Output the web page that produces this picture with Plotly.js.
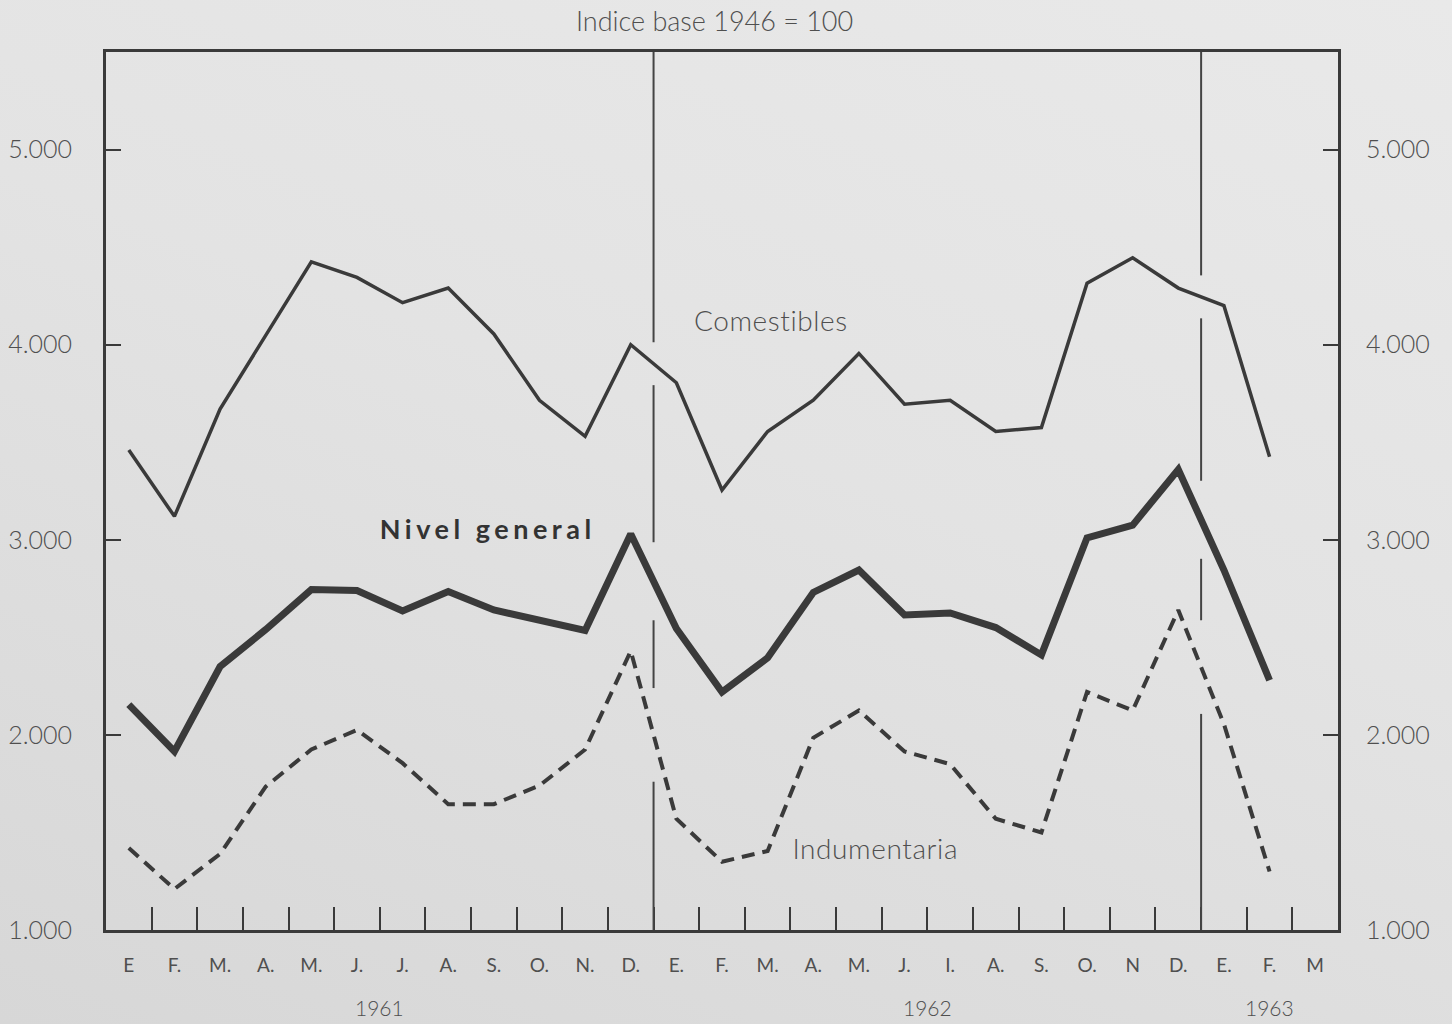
<!DOCTYPE html>
<html>
<head>
<meta charset="utf-8">
<script src="https://cdn.plot.ly/plotly-3.0.1.min.js"></script>
<style>
  html, body { margin: 0; padding: 0; }
  body { width: 1452px; height: 1024px; background: linear-gradient(200deg, #e9e9e9 0%, #e3e3e3 45%, #d7d7d7 100%); }
  #chart { width: 1452px; height: 1024px; }
</style>
</head>
<body>
<div id="chart"></div>
<script>
// Month tick labels (E 1961 ... M 1963)
const months = ["E", "F.", "M.", "A.", "M.", "J.", "J.", "A.", "S.", "O.", "N.", "D.",
                "E.", "F.", "M.", "A.", "M.", "J.", "I.", "A.", "S.", "O.", "N", "D.",
                "E.", "F.", "M"];
const years = ["1961", "1962", "1963"];
const yearCenters = [5.5, 17.5, 25];
const yearBoundaries = [11.5, 23.5];

// Index values (base 1946 = 100), E 1961 ... F 1963
const comestibles = [3460, 3120, 3670, 4050, 4425, 4345, 4215, 4290, 4055, 3715, 3530, 4000,
                     3805, 3255, 3555, 3715, 3955, 3695, 3715, 3555, 3575, 4315, 4445, 4290,
                     4200, 3425];
const nivelGeneral = [2155, 1915, 2350, 2540, 2745, 2740, 2635, 2735, 2640, 2585, 2535, 3030,
                      2545, 2220, 2395, 2730, 2845, 2615, 2625, 2550, 2410, 3010, 3075, 3360,
                      2845, 2280];
const indumentaria = [1420, 1210, 1390, 1735, 1925, 2025, 1855, 1645, 1645, 1740, 1925, 2430,
                      1570, 1350, 1405, 1985, 2125, 1915, 1850, 1570, 1500, 2220, 2125, 2640,
                      2055, 1300];

const yTicks = [1000, 2000, 3000, 4000, 5000];
const yTickText = ["1.000", "2.000", "3.000", "4.000", "5.000"];

const FONT = "Lato, 'Open Sans', sans-serif";
const INK = "#3a3a3a";
const TXT = "#4f4f4f";
const YMIN = 1000, YMAX = 5500;

const idx = arr => arr.map((_, i) => i);

const traces = [
  { x: idx(comestibles), y: comestibles, type: "scatter", mode: "lines", name: "Comestibles",
    line: { color: INK, width: 3.5 }, xaxis: "x", yaxis: "y" },
  { x: idx(nivelGeneral), y: nivelGeneral, type: "scatter", mode: "lines", name: "Nivel general",
    line: { color: INK, width: 7 }, xaxis: "x", yaxis: "y" },
  { x: idx(indumentaria), y: indumentaria, type: "scatter", mode: "lines", name: "Indumentaria",
    line: { color: INK, width: 4, dash: "13px,8px" }, xaxis: "x", yaxis: "y" },
  // invisible trace to activate the right-hand axis
  { x: [0], y: [YMIN], type: "scatter", mode: "lines", showlegend: false, hoverinfo: "skip",
    line: { width: 0 }, xaxis: "x2", yaxis: "y2" }
];

// Year divider lines, broken where the series cross them
const series = [
  { v: comestibles, half: 110 },
  { v: nivelGeneral, half: 200 },
  { v: indumentaria, half: 240 }
];
const shapes = [];
yearBoundaries.forEach(b => {
  const i = Math.floor(b);
  const gaps = series.map(s => {
    const c = (s.v[i] + s.v[i + 1]) / 2;
    return [c - s.half, c + s.half];
  }).sort((a, b2) => b2[0] - a[0]);
  let top = YMAX;
  gaps.forEach(g => {
    if (g[1] < top) {
      shapes.push({ type: "line", xref: "x", yref: "y", x0: b, x1: b, y0: g[1], y1: top,
                    line: { color: "#444", width: 2 } });
    }
    top = Math.min(top, g[0]);
  });
  shapes.push({ type: "line", xref: "x", yref: "y", x0: b, x1: b, y0: YMIN, y1: top,
                line: { color: "#444", width: 2 } });
});

const annotations = [
  { text: "Comestibles", x: 14.07, y: 4127, xref: "x", yref: "y", showarrow: false,
    xanchor: "center", yanchor: "middle", font: { family: FONT, size: 28, color: TXT, weight: 300 } },
  { text: "Nivel general", x: 7.85, y: 3060, xref: "x", yref: "y", showarrow: false,
    xanchor: "center", yanchor: "middle", font: { family: FONT, size: 27, color: "#333", weight: 700 } },
  { text: "Indumentaria", x: 16.35, y: 1420, xref: "x", yref: "y", showarrow: false,
    xanchor: "center", yanchor: "middle", font: { family: FONT, size: 28, color: TXT, weight: 300 } }
];
years.forEach((yr, k) => {
  annotations.push({ text: yr, x: yearCenters[k], y: -0.088, xref: "x", yref: "paper",
    showarrow: false, xanchor: "center", yanchor: "middle",
    font: { family: FONT, size: 21, color: TXT, weight: 300 } });
});

const layout = {
  width: 1452, height: 1024,
  margin: { l: 106, r: 114, t: 52, b: 94 },
  paper_bgcolor: "rgba(0,0,0,0)",
  plot_bgcolor: "rgba(0,0,0,0)",
  showlegend: false,
  separators: ",.",
  title: { text: "Indice base 1946 = 100", x: 0.494, xref: "paper", xanchor: "center",
           y: 0.979, yref: "container", yanchor: "middle",
           font: { family: FONT, size: 27, color: TXT, weight: 300 } },
  xaxis: {
    range: [-0.5, 26.5], tickmode: "array", tickvals: idx(months), ticktext: months,
    ticks: "", showgrid: false, zeroline: false, showline: true, mirror: true,
    linecolor: INK, linewidth: 3, ticklabelstandoff: 16,
    tickfont: { family: FONT, size: 19, color: TXT }
  },
  xaxis2: {
    overlaying: "x", matches: "x", range: [-0.5, 26.5], side: "bottom",
    tickmode: "array", tickvals: idx(months).slice(1).map(i => i - 0.5),
    ticks: "inside", ticklen: 23, tickwidth: 2, tickcolor: INK,
    showticklabels: false, showgrid: false, zeroline: false, showline: false
  },
  yaxis: {
    range: [YMIN, YMAX], tickmode: "array", tickvals: yTicks, ticktext: yTickText,
    ticks: "inside", ticklen: 15, tickwidth: 2, tickcolor: INK,
    showgrid: false, zeroline: false, showline: true, linecolor: INK, linewidth: 3,
    ticklabelstandoff: 26,
    tickfont: { family: FONT, size: 25, color: TXT, weight: 300 }
  },
  yaxis2: {
    overlaying: "y", side: "right", range: [YMIN, YMAX], tickmode: "array",
    tickvals: yTicks, ticktext: yTickText,
    ticks: "inside", ticklen: 15, tickwidth: 2, tickcolor: INK,
    showgrid: false, zeroline: false, showline: true, linecolor: INK, linewidth: 3,
    ticklabelstandoff: 20,
    tickfont: { family: FONT, size: 25, color: TXT, weight: 300 }
  },
  shapes: shapes,
  annotations: annotations
};

Plotly.newPlot("chart", traces, layout, { staticPlot: true, displayModeBar: false }).then(() => {
  document.querySelectorAll(".annotation-text").forEach(t => {
    if (t.textContent === "Nivel general") t.style.letterSpacing = "4.5px";
    if (t.textContent === "Comestibles" || t.textContent === "Indumentaria") t.style.letterSpacing = "0.6px";
  });
});
</script>
</body>
</html>
